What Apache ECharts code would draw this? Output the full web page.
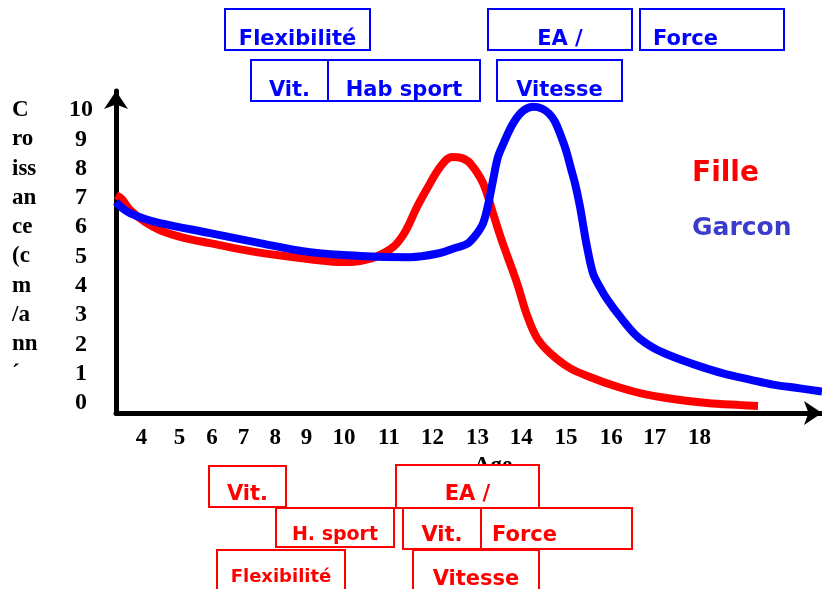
<!DOCTYPE html>
<html>
<head>
<meta charset="utf-8">
<script src="https://cdn.jsdelivr.net/npm/echarts@6/dist/echarts.min.js"></script>
<style>
  html, body { margin: 0; padding: 0; background: #fff; }
  #chart { width: 822px; height: 589px; }
</style>
</head>
<body>
<div id="chart"></div>
<script>
// positions of the age labels along the drawn axis (axis spacing is uneven in the original)
const ageTickPos = [4.04, 4.99, 5.8, 6.59, 7.38, 8.16, 9.1, 10.22, 11.31, 12.44, 13.53, 14.65, 15.78, 16.87, 17.99];
const ageLabels = ["4", "5", "6", "7", "8", "9", "10", "11", "12", "13", "14", "15", "16", "17", "18"];
const rateTicks = [0, 1, 2, 3, 4, 5, 6, 7, 8, 9, 10];
const yTitleLines = ["C", "ro", "iss", "an", "ce", "(c", "m", "/a", "nn", "´"];

// Fille (red)
const filleAge = [3.4, 3.55, 3.75, 4.125, 4.5, 5.125, 5.75, 6.625, 7.425, 8.25, 9.075, 9.5, 9.875, 10.325,
  10.625, 10.925, 11.2, 11.5, 11.8, 12.05, 12.25, 12.575, 12.825, 13.0, 13.175, 13.425, 13.675, 13.925,
  14.25, 14.75, 15.25, 15.875, 16.5, 17.325, 18.175, 19.0, 19.45];
const filleRate = [7.1, 6.96, 6.59, 6.18, 5.9, 5.63, 5.46, 5.22, 5.05, 4.91, 4.81, 4.85, 4.98, 5.32,
  5.84, 6.69, 7.37, 8.05, 8.4, 8.36, 8.19, 7.51, 6.48, 5.73, 5.05, 4.1, 3.0, 2.22,
  1.71, 1.19, 0.89, 0.58, 0.34, 0.14, 0.0, -0.07, -0.1];

// Garcon (blue)
const garconAge = [3.4, 3.55, 3.75, 4.125, 4.5, 5.75, 7.0, 8.25, 9.5, 10.75, 11.5, 11.875, 12.175, 12.375,
  12.575, 12.7, 12.825, 12.95, 13.1, 13.25, 13.425, 13.6, 13.825, 14.05, 14.225, 14.375, 14.5, 14.65,
  14.775, 14.875, 15.0, 15.1, 15.175, 15.325, 15.5, 15.675, 16.0, 16.425, 16.875, 17.325, 18.0, 18.575,
  19.25, 19.825, 20.5, 21.05];
const garconRate = [6.86, 6.66, 6.48, 6.28, 6.14, 5.8, 5.46, 5.15, 5.02, 4.98, 5.12, 5.29, 5.43, 5.7,
  6.13, 6.75, 7.6, 8.4, 8.9, 9.35, 9.75, 10.0, 10.11, 10.05, 9.88, 9.6, 9.2, 8.63,
  8.0, 7.5, 6.7, 5.9, 5.33, 4.43, 3.95, 3.55, 2.95, 2.28, 1.85, 1.58, 1.25, 1.01,
  0.8, 0.63, 0.5, 0.39];

const SERIF = '"Times New Roman", "Liberation Serif", serif';
const COMIC = '"Comic Sans MS", "DejaVu Sans", sans-serif';

function box(x, y, w, h, text, color, opts) {
  const o = opts || {};
  const left = o.left != null;
  return [
    {
      type: "rect",
      shape: { x: x, y: y, width: w, height: h },
      style: { fill: "#fff", stroke: color, lineWidth: 2 },
      z: o.z || 10
    },
    {
      type: "text",
      x: left ? o.left : x + w / 2,
      y: o.ty + 3,
      style: {
        text: text,
        fill: color,
        fontSize: o.size || 21,
        fontWeight: "bold",
        fontFamily: COMIC,
        align: left ? "left" : "center",
        verticalAlign: "middle",
        textAlign: left ? "left" : "center",
        textVerticalAlign: "middle"
      },
      z: (o.z || 10) + 1
    }
  ];
}

const BLUE = "#0000ff";
const RED = "#ff0000";

const graphics = [].concat(
  // top: garcon
  box(225, 9, 145, 41, "Flexibilité", BLUE, { ty: 37 }),
  box(488, 9, 144, 41, "EA /", BLUE, { ty: 37 }),
  box(640, 9, 144, 41, "Force", BLUE, { ty: 37, left: 653 }),
  box(251, 60, 77, 41, "Vit.", BLUE, { ty: 88 }),
  box(328, 60, 152, 41, "Hab sport", BLUE, { ty: 88 }),
  box(497, 60, 125, 41, "Vitesse", BLUE, { ty: 88 }),
  // bottom: fille
  box(209, 466, 77, 41, "Vit.", RED, { ty: 492 }),
  box(396, 465, 143, 43, "EA /", RED, { ty: 492 }),
  box(276, 508, 118, 39, "H. sport", RED, { ty: 532, size: 19, z: 12 }),
  box(403, 508, 78, 41, "Vit.", RED, { ty: 533, z: 12 }),
  box(481, 508, 151, 41, "Force", RED, { ty: 533, left: 492, z: 12 }),
  box(217, 550, 128, 45, "Flexibilité", RED, { ty: 574, size: 18, z: 14 }),
  box(413, 550, 126, 45, "Vitesse", RED, { ty: 577, z: 14 }),
  [
    {
      type: "text",
      x: 493,
      y: 466,
      z: 5,
      style: {
        text: "Age", fill: "#000", fontSize: 23, fontWeight: "bold", fontFamily: SERIF,
        align: "center", verticalAlign: "middle", textAlign: "center", textVerticalAlign: "middle"
      }
    },
    {
      type: "text",
      x: 12,
      y: 110 - 14.65,
      z: 5,
      style: {
        text: yTitleLines.join("\n"), fill: "#000", fontSize: 23, fontWeight: "bold", fontFamily: SERIF,
        lineHeight: 29.3, align: "left", verticalAlign: "top", textAlign: "left", textVerticalAlign: "top"
      }
    }
  ]
);

const chart = echarts.init(document.getElementById("chart"), null, { renderer: "canvas" });

chart.setOption({
  animation: false,
  backgroundColor: "#fff",
  grid: { left: 116, right: 0, top: 91, bottom: 176, containLabel: false },
  legend: {
    orient: "vertical",
    left: 687,
    top: 160,
    icon: "none",
    itemWidth: 0,
    itemGap: 28,
    padding: 0,
    selectedMode: false,
    data: [
      { name: "Fille", textStyle: { color: RED, fontSize: 28, fontWeight: "bold", fontFamily: COMIC } },
      { name: "Garcon", textStyle: { color: "#3c3ccc", fontSize: 25, fontWeight: "bold", fontFamily: COMIC } }
    ]
  },
  xAxis: {
    type: "value",
    min: 3.4,
    max: 21.05,
    axisLine: {
      show: true,
      onZero: false,
      symbol: ["none", "arrow"],
      symbolSize: [18, 18],
      lineStyle: { color: "#000", width: 5 }
    },
    axisTick: { show: false },
    splitLine: { show: false },
    axisLabel: {
      customValues: ageTickPos,
      formatter: (v) => {
        const i = ageTickPos.indexOf(v);
        return i >= 0 ? ageLabels[i] : "";
      },
      margin: 14,
      color: "#000",
      fontSize: 23,
      fontWeight: "bold",
      fontFamily: SERIF
    }
  },
  yAxis: {
    type: "value",
    min: -0.34,
    max: 10.65,
    axisLine: {
      show: true,
      onZero: false,
      symbol: ["none", "arrow"],
      symbolSize: [18, 18],
      lineStyle: { color: "#000", width: 5 }
    },
    axisTick: { show: false },
    splitLine: { show: false },
    axisLabel: {
      customValues: rateTicks,
      align: "center",
      margin: 35,
      color: "#000",
      fontSize: 24,
      fontWeight: "bold",
      fontFamily: SERIF
    }
  },
  series: [
    {
      name: "Fille",
      type: "line",
      smooth: 0.35,
      showSymbol: false,
      data: filleAge.map((a, i) => [a, filleRate[i]]),
      lineStyle: { color: RED, width: 8 },
      itemStyle: { color: RED }
    },
    {
      name: "Garcon",
      type: "line",
      smooth: 0.35,
      showSymbol: false,
      data: garconAge.map((a, i) => [a, garconRate[i]]),
      lineStyle: { color: BLUE, width: 8 },
      itemStyle: { color: BLUE }
    }
  ],
  graphic: { elements: graphics }
});
</script>
</body>
</html>
